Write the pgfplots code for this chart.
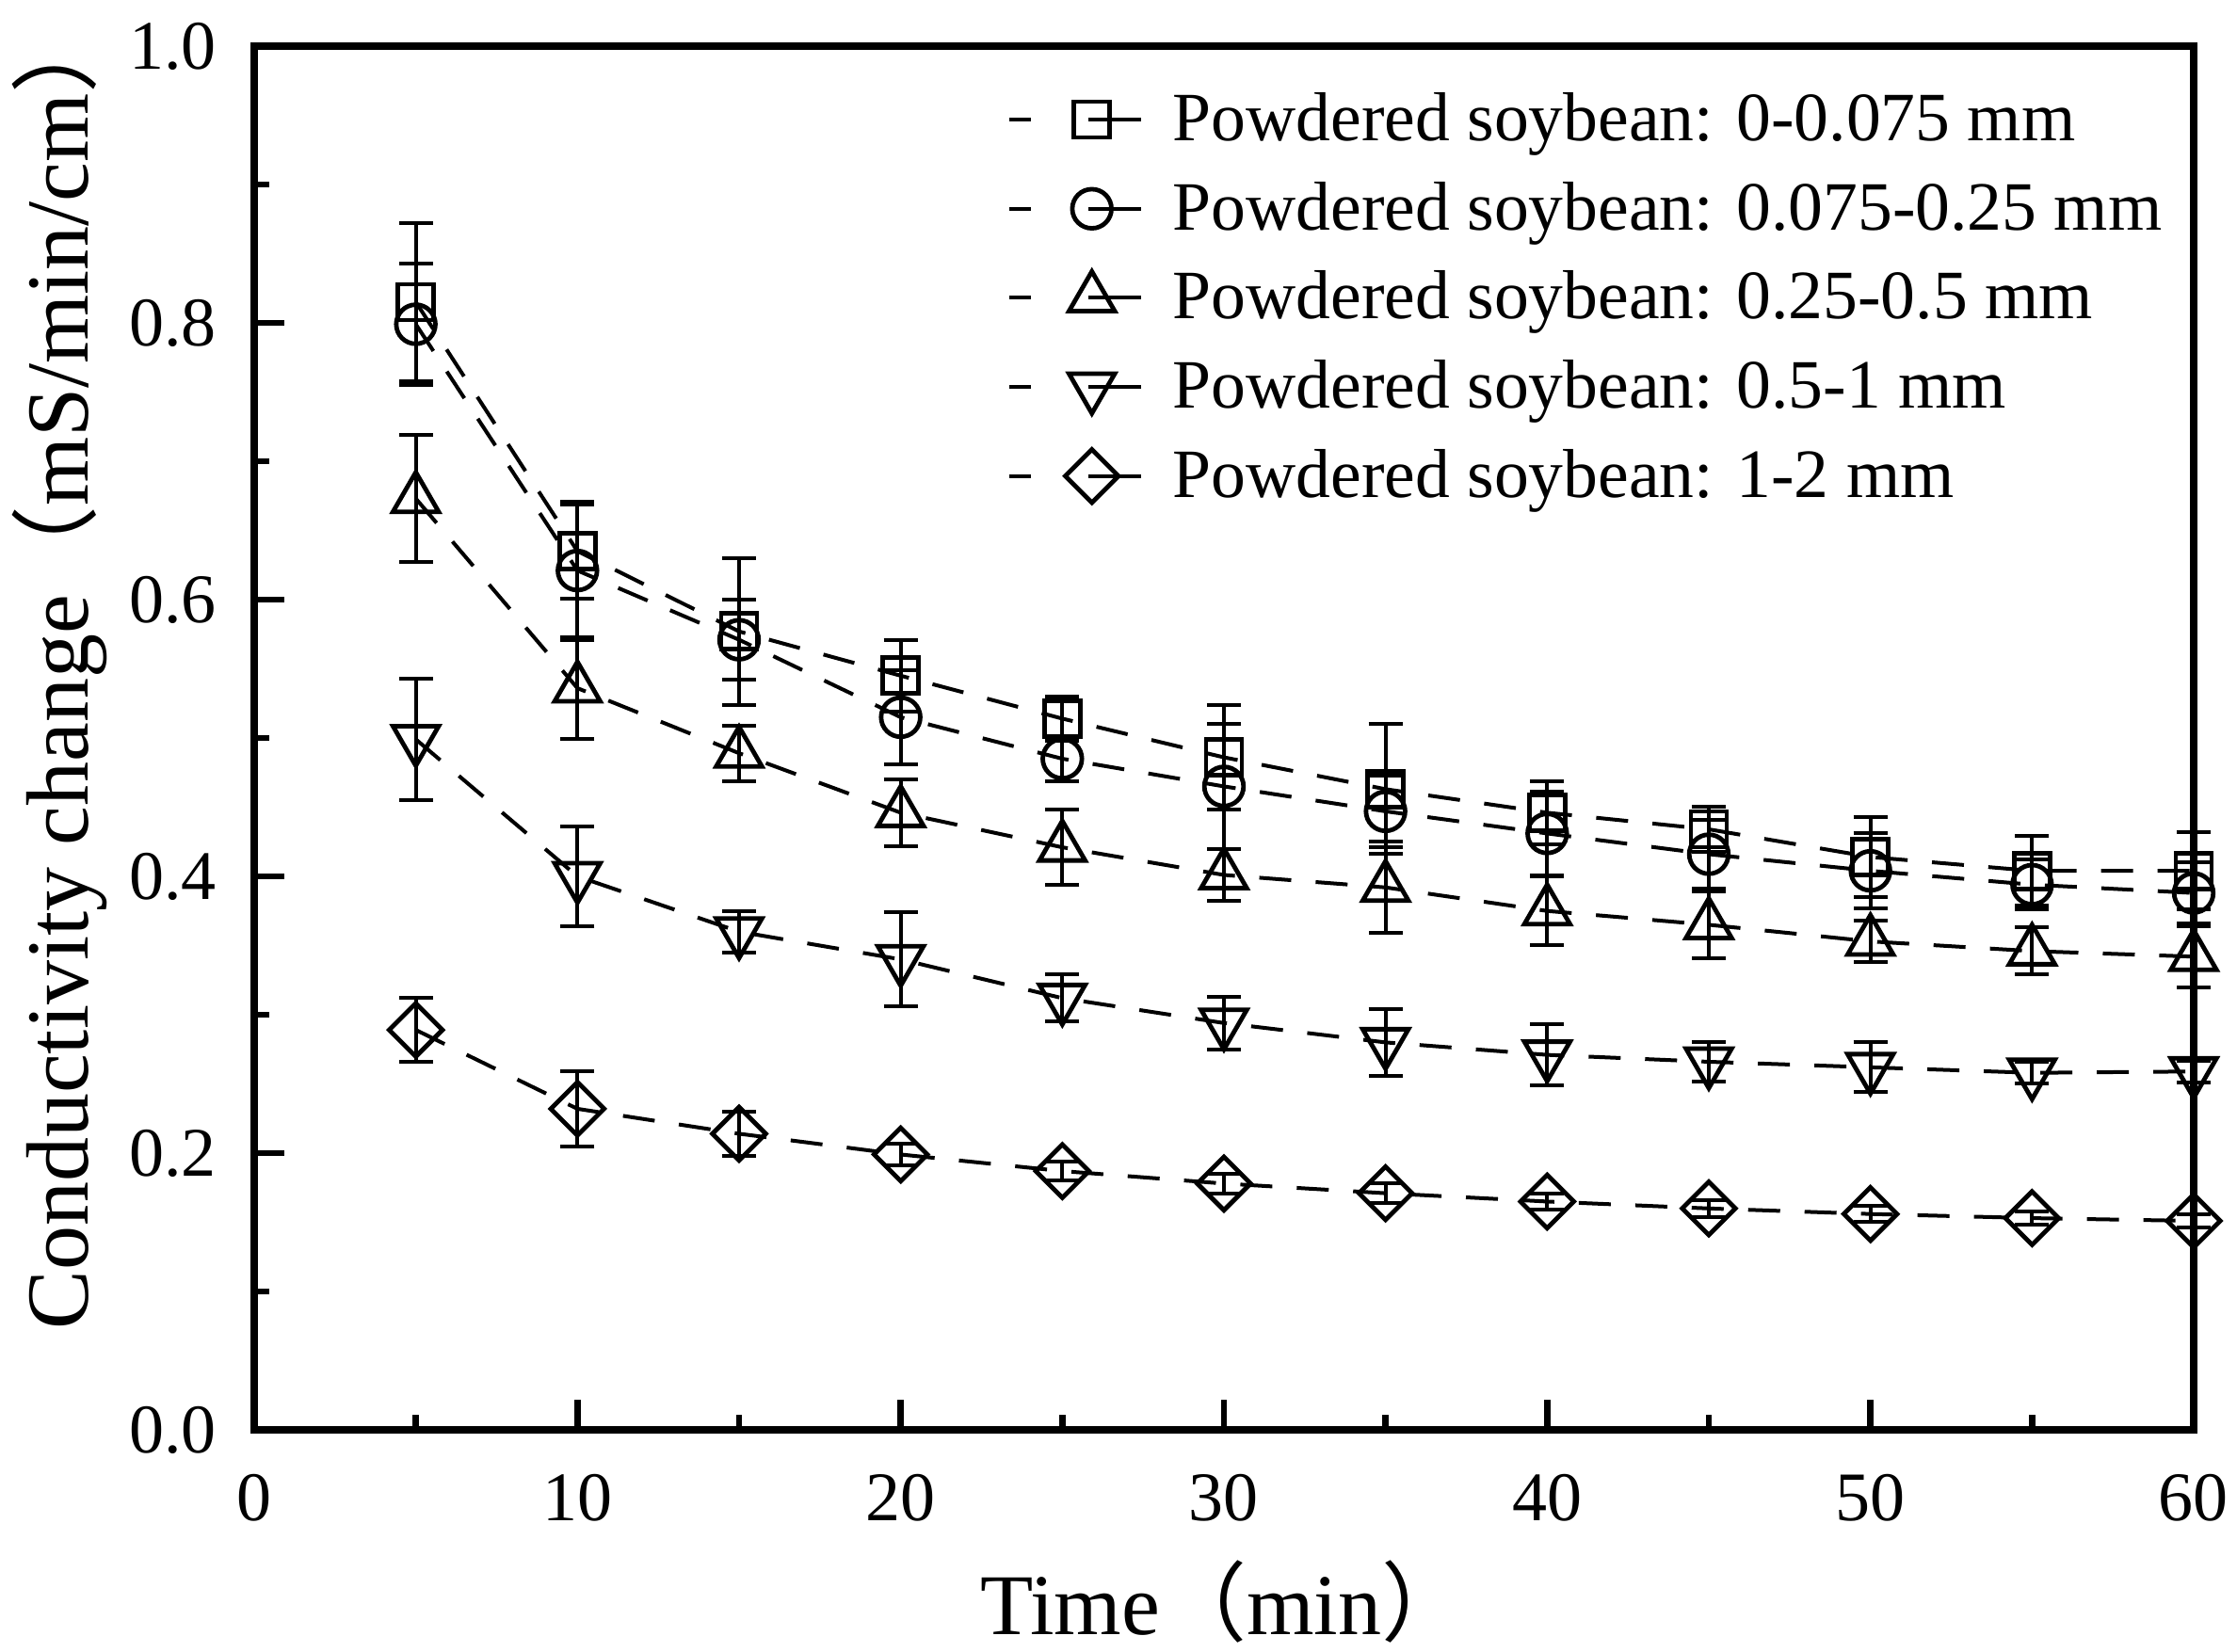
\documentclass[border=0pt]{standalone}
\usepackage{fontspec}
\setmainfont{Liberation Serif}
\newfontfamily\cjk{Noto Sans CJK SC}
\usepackage{pgfplots}
\pgfplotsset{compat=1.18}
\usepackage{pgfplotstable}

\pgfplotstableread{
t y e
5 0.815 0.057
10 0.635 0.034
15 0.577 0.053
20 0.545 0.026
25 0.514 0.016
30 0.486 0.038
35 0.463 0.047
40 0.446 0.023
45 0.434 0.016
50 0.414 0.029
55 0.404 0.025
60 0.404 0.028
}\sqdata
\pgfplotstableread{
t y e
5 0.799 0.044
10 0.621 0.050
15 0.571 0.029
20 0.515 0.034
25 0.485 0.016
30 0.465 0.045
35 0.447 0.026
40 0.431 0.030
45 0.416 0.025
50 0.404 0.027
55 0.394 0.018
60 0.388 0.022
}\cidata
\pgfplotstableread{
t y e
5 0.673 0.046
10 0.536 0.037
15 0.489 0.020
20 0.446 0.024
25 0.421 0.027
30 0.401 0.019
35 0.392 0.033
40 0.375 0.025
45 0.365 0.024
50 0.353 0.015
55 0.346 0.017
60 0.342 0.022
}\trdata
\pgfplotstableread{
t y e
5 0.499 0.044
10 0.400 0.036
15 0.360 0.015
20 0.340 0.034
25 0.312 0.017
30 0.294 0.019
35 0.280 0.024
40 0.271 0.022
45 0.266 0.014
50 0.262 0.018
55 0.258 0.008
60 0.259 0.008
}\tddata
\pgfplotstableread{
t y e
5 0.289 0.023
10 0.232 0.027
15 0.214 0.016
20 0.199 0.008
25 0.187 0.007
30 0.178 0.007
35 0.171 0.007
40 0.165 0.006
45 0.160 0.006
50 0.156 0.006
55 0.153 0.005
60 0.151 0.005
}\didata

\begin{document}
\begin{tikzpicture}
\useasboundingbox (-67.5pt,-59pt) rectangle (526.5pt,379.75pt);
\begin{axis}[
  at={(0pt,0pt)}, anchor=south west,
  scale only axis, width=515pt, height=367.5pt,
  xmin=0, xmax=60, ymin=0, ymax=1,
  xtick={0,10,20,30,40,50,60},
  ytick={0,0.2,0.4,0.6,0.8,1.0},
  minor tick num=1,
  tick pos=left, tick align=inside,
  major tick length=8pt, minor tick length=4pt,
  every tick/.style={line width=1.6pt, black},
  axis line style={line width=2pt},
  /pgf/number format/assume math mode=true,
  yticklabel style={/pgf/number format/.cd, fixed, fixed zerofill, precision=1, /tikz/.cd, xshift=-6.5pt},
  xticklabel style={yshift=-8.3pt},
  ticklabel style={font=\fontsize{18.5}{20}\selectfont},
  xlabel={Time{\cjk （}min\makebox[0.55em][l]{\cjk ）}},
  ylabel={Conductivity change{\cjk （}mS/min/cm\makebox[0.55em][l]{\cjk ）}},
  xlabel style={font=\fontsize{23}{27}\selectfont, at={(axis description cs:0.49,-0.148)}, anchor=base},
  ylabel style={font=\fontsize{23.5}{28}\selectfont, at={(axis description cs:-0.0859,0.5367)}, anchor=base},
  clip=false,
  legend style={draw=none, fill=none, at={(axis description cs:0.382,0.9777)}, anchor=north west,
    font=\fontsize{18.4}{20}\selectfont, row sep=5.4pt},
  legend cell align=left,
  legend image code/.code={%
    \draw[solid] (0pt,0pt) -- (5.7pt,0pt) (22pt,0pt) -- (35pt,0pt);
    \draw[mark repeat=2, mark phase=2] plot coordinates {(21pt,0pt) (22pt,0pt) (23pt,0pt)};
    \path (41pt,0pt);},
  every axis plot/.append style={black, line width=1pt, dash pattern=on 8.5pt off 6.5pt},
  error bars/y dir=both, error bars/y explicit,
  error bars/error bar style={line width=1pt, solid},
  error bars/error mark options={rotate=90, mark size=4.5pt, line width=1pt, solid},
]
\addplot[mark=square, mark size=4.75pt, mark options={solid, fill=white, line width=1.2pt}] table[x=t, y=y, y error=e]{\sqdata};
\addlegendentry{Powdered soybean: 0-0.075 mm}
\addplot[mark=o, mark size=5.2pt, mark options={solid, fill=white, line width=1.2pt}] table[x=t, y=y, y error=e]{\cidata};
\addlegendentry{Powdered soybean: 0.075-0.25 mm}
\addplot[mark=triangle, mark size=7pt, mark options={solid, fill=white, line width=1.2pt}] table[x=t, y=y, y error=e]{\trdata};
\addlegendentry{Powdered soybean: 0.25-0.5 mm}
\addplot[mark=triangle, mark size=7pt, mark options={solid, fill=white, line width=1.2pt, rotate=180}] table[x=t, y=y, y error=e]{\tddata};
\addlegendentry{Powdered soybean: 0.5-1 mm}
\addplot[mark=square, mark size=5pt, mark options={solid, fill=white, line width=1.2pt, rotate=45}] table[x=t, y=y, y error=e]{\didata};
\addlegendentry{Powdered soybean: 1-2 mm}
\end{axis}
\end{tikzpicture}
\end{document}
